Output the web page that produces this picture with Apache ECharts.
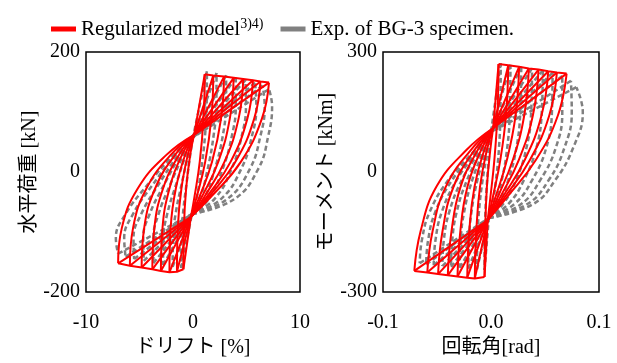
<!DOCTYPE html>
<html><head><meta charset="utf-8">
<script src="https://cdn.jsdelivr.net/npm/echarts@6/dist/echarts.min.js"></script>
<style>html,body{margin:0;padding:0;background:#fff}#c{width:617px;height:363px}</style>
</head><body><div id="c"></div>
<script>
// ---------- Left panel: drift [%] vs horizontal load [kN] ----------
const driftTicks = [-10, 0, 10];
const loadTicks = [-200, 0, 200];
const driftModelPinch = [[0.1, 62], [-0.2, -75]];
const driftModelPosPeaks = [[1.1,163],[1.9,161],[2.9,159],[3.8,157],[4.7,155],[5.6,153],[6.3,151],[7.1,149]];
const driftModelPosCurves = [
 [[0.14,-41],[0.63,17],[0.98,89]],
 [[0.35,-41],[1.14,17],[1.71,89]],
 [[0.61,-41],[1.78,17],[2.62,89]],
 [[0.84,-41],[2.36,17],[3.44,89]],
 [[1.07,-41],[2.94,17],[4.26,89]],
 [[1.31,-41],[3.51,17],[5.08,89]],
 [[1.49,-41],[3.96,17],[5.72,89]],
 [[1.70,-41],[4.47,17],[6.44,89]]
];
const driftModelNegPeaks = [[-0.9,-162],[-1.5,-166],[-2.2,-167],[-3.0,-165],[-3.8,-162],[-4.8,-159],[-5.9,-156],[-7.0,-152]];
const driftModelNegCurves = [
 [[-0.26,29],[-0.64,-27],[-0.85,-93]],
 [[-0.48,29],[-1.08,-27],[-1.42,-93]],
 [[-0.73,29],[-1.60,-27],[-2.09,-93]],
 [[-1.02,29],[-2.19,-27],[-2.85,-93]],
 [[-1.30,29],[-2.79,-27],[-3.61,-93]],
 [[-1.66,29],[-3.53,-27],[-4.56,-93]],
 [[-2.06,29],[-4.34,-27],[-5.60,-93]],
 [[-2.46,29],[-5.15,-27],[-6.65,-93]]
];
const driftExpPinch = [[0.0, 58], [-0.1, -70]];
const driftExpPosPeaks = [[1.3,168],[2.2,165],[3.1,161],[4.0,157],[4.9,153],[5.8,149],[6.5,144],[7.1,138]];
const driftExpPosCurves = [
 [[0.32,-45],[0.77,5],[1.12,60],[1.27,110]],
 [[0.64,-45],[1.37,5],[1.92,60],[2.18,110]],
 [[1.02,-45],[2.04,5],[2.78,60],[3.07,110]],
 [[1.46,-45],[2.77,5],[3.63,60],[4.00,110]],
 [[2.00,-45],[3.60,5],[4.55,60],[4.95,110]],
 [[2.61,-45],[4.50,5],[5.51,60],[5.92,110]],
 [[3.20,-45],[5.31,5],[6.30,60],[6.70,110]],
 [[3.86,-45],[6.09,5],[7.03,60],[7.39,110]]
];
const driftExpNegPeaks = [[-1.1,-160],[-1.9,-158],[-2.8,-155],[-3.7,-152],[-4.6,-148],[-5.5,-145],[-6.3,-141],[-7.0,-136]];
const driftExpNegCurves = [
 [[-0.25,30],[-0.61,-20],[-0.94,-70],[-1.08,-110]],
 [[-0.42,30],[-1.06,-20],[-1.63,-70],[-1.88,-110]],
 [[-0.64,30],[-1.57,-20],[-2.41,-70],[-2.77,-110]],
 [[-0.85,30],[-2.11,-20],[-3.22,-70],[-3.70,-110]],
 [[-1.10,30],[-2.67,-20],[-4.05,-70],[-4.65,-110]],
 [[-1.32,30],[-3.19,-20],[-4.84,-70],[-5.56,-110]],
 [[-1.58,30],[-3.72,-20],[-5.61,-70],[-6.43,-110]],
 [[-1.75,30],[-4.20,-20],[-6.30,-70],[-7.21,-110]]
];

// ---------- Right panel: rotation [rad] vs moment [kNm] ----------
const rotTicks = [-0.1, 0.0, 0.1];
const momentTicks = [-300, 0, 300];
const rotModelPinch = [[0.002, 110], [-0.003, -120]];
const rotModelPosPeaks = [[0.007,270],[0.016,267],[0.026,263],[0.035,259],[0.044,256],[0.053,252],[0.061,249],[0.070,246]];
const rotModelPosCurves = [
 [[-0.0006,-64],[0.0031,30],[0.0059,142]],
 [[0.0016,-64],[0.0086,30],[0.0139,142]],
 [[0.0040,-64],[0.0147,30],[0.0228,142]],
 [[0.0061,-64],[0.0202,30],[0.0308,142]],
 [[0.0083,-64],[0.0257,30],[0.0388,142]],
 [[0.0104,-64],[0.0312,30],[0.0468,142]],
 [[0.0124,-64],[0.0360,30],[0.0540,142]],
 [[0.0145,-64],[0.0415,30],[0.0620,142]]
];
const rotModelNegPeaks = [[-0.006,-262],[-0.015,-266],[-0.022,-264],[-0.031,-261],[-0.040,-258],[-0.049,-255],[-0.059,-251],[-0.071,-247]];
const rotModelNegCurves = [
 [[-0.0007,55],[-0.0038,-37],[-0.0054,-148]],
 [[-0.0038,55],[-0.0102,-37],[-0.0136,-148]],
 [[-0.0062,55],[-0.0153,-37],[-0.0201,-148]],
 [[-0.0092,55],[-0.0218,-37],[-0.0284,-148]],
 [[-0.0123,55],[-0.0282,-37],[-0.0366,-148]],
 [[-0.0153,55],[-0.0347,-37],[-0.0449,-148]],
 [[-0.0187,55],[-0.0419,-37],[-0.0541,-148]],
 [[-0.0228,55],[-0.0506,-37],[-0.0652,-148]]
];
const rotExpPinch = [[0.0, 100], [-0.002, -115]];
const rotExpPosPeaks = [[0.009,272],[0.018,268],[0.028,264],[0.038,259],[0.048,254],[0.057,248],[0.066,240],[0.074,228],[0.079,212]];
const rotExpPosCurves = [
 [[0.0013,-80],[0.0046,-20],[0.0074,60],[0.0087,150]],
 [[0.0040,-80],[0.0100,-20],[0.0150,60],[0.0174,150]],
 [[0.0070,-80],[0.0160,-20],[0.0235,60],[0.0271,150]],
 [[0.0112,-80],[0.0232,-20],[0.0328,60],[0.0372,150]],
 [[0.0160,-80],[0.0305,-20],[0.0420,60],[0.0470,150]],
 [[0.0216,-80],[0.0381,-20],[0.0511,60],[0.0564,150]],
 [[0.0279,-80],[0.0456,-20],[0.0599,60],[0.0660,150]],
 [[0.0337,-80],[0.0535,-20],[0.0679,60],[0.0748,150]],
 [[0.0390,-80],[0.0595,-20],[0.0760,60],[0.0850,150]]
];
const rotExpNegPeaks = [[-0.006,-245],[-0.013,-243],[-0.021,-241],[-0.029,-239],[-0.037,-237],[-0.045,-235],[-0.053,-233],[-0.060,-231],[-0.066,-228]];
const rotExpNegCurves = [
 [[-0.0015,50],[-0.0036,-20],[-0.0052,-100],[-0.0058,-170]],
 [[-0.0033,50],[-0.0078,-20],[-0.0112,-100],[-0.0126,-170]],
 [[-0.0053,50],[-0.0126,-20],[-0.0181,-100],[-0.0204,-170]],
 [[-0.0073,50],[-0.0174,-20],[-0.0249,-100],[-0.0281,-170]],
 [[-0.0093,50],[-0.0222,-20],[-0.0318,-100],[-0.0359,-170]],
 [[-0.0113,50],[-0.0270,-20],[-0.0387,-100],[-0.0437,-170]],
 [[-0.0133,50],[-0.0318,-20],[-0.0456,-100],[-0.0514,-170]],
 [[-0.0150,50],[-0.0360,-20],[-0.0516,-100],[-0.0582,-170]],
 [[-0.0165,50],[-0.0396,-20],[-0.0568,-100],[-0.0640,-170]]
];

const RED = '#ff0000', GRAY = '#808080';
const FONT = "'Liberation Serif', 'Noto Sans CJK JP', serif";

const series = [];
function line(idx, name, data, style, smooth) {
  series.push({
    type: 'line', name: name, xAxisIndex: idx, yAxisIndex: idx,
    data: data, showSymbol: false, symbol: 'none', smooth: smooth ? 0.45 : false,
    color: style.color, lineStyle: style, silent: true, animation: false,
    z: name === 'model' ? 3 : 2
  });
}
function hyst(idx, name, pinch, posPeaks, posCurves, negPeaks, negCurves, style, skeleton) {
  posPeaks.forEach((p, i) => {
    line(idx, name, [pinch[1]].concat(posCurves[i], [p]), style, true);
    line(idx, name, [p, pinch[0]], style, false);
  });
  negPeaks.forEach((p, i) => {
    line(idx, name, [pinch[0]].concat(negCurves[i], [p]), style, true);
    line(idx, name, [p, pinch[1]], style, false);
  });
  if (skeleton) {
    line(idx, name, posPeaks, style, false);
    line(idx, name, negPeaks, style, false);
  }
}
const expStyle = { color: GRAY, width: 2.5, type: [5, 3] };
const modelStyle = { color: RED, width: 2 };
hyst(0, 'exp', driftExpPinch, driftExpPosPeaks, driftExpPosCurves, driftExpNegPeaks, driftExpNegCurves, expStyle, false);
hyst(1, 'exp', rotExpPinch, rotExpPosPeaks, rotExpPosCurves, rotExpNegPeaks, rotExpNegCurves, expStyle, false);
hyst(0, 'model', driftModelPinch, driftModelPosPeaks, driftModelPosCurves, driftModelNegPeaks, driftModelNegCurves, modelStyle, true);
hyst(1, 'model', rotModelPinch, rotModelPosPeaks, rotModelPosCurves, rotModelNegPeaks, rotModelNegCurves, modelStyle, true);

const axisText = { color: '#000', fontFamily: FONT, fontSize: 20 };
function xAxis(idx, ticks, name, fmt) {
  return {
    type: 'value', gridIndex: idx, min: ticks[0], max: ticks[ticks.length - 1],
    interval: ticks[1] - ticks[0],
    axisLine: { show: false }, axisTick: { show: false }, splitLine: { show: false },
    axisLabel: Object.assign({ margin: 21, formatter: fmt }, axisText),
    name: name, nameLocation: 'middle', nameGap: 45,
    nameTextStyle: { color: '#000', fontFamily: FONT, fontSize: 20 }
  };
}
function yAxis(idx, ticks, name, gap) {
  return {
    type: 'value', gridIndex: idx, min: ticks[0], max: ticks[ticks.length - 1],
    interval: ticks[1] - ticks[0],
    axisLine: { show: false }, axisTick: { show: false }, splitLine: { show: false },
    axisLabel: Object.assign({ margin: 6 }, axisText),
    name: name, nameLocation: 'middle', nameGap: gap, nameRotate: 90,
    nameTextStyle: { color: '#000', fontFamily: FONT, fontSize: 20 }
  };
}

const chart = echarts.init(document.getElementById('c'), null, { renderer: 'canvas' });
chart.setOption({
  animation: false,
  backgroundColor: '#fff',
  legend: {
    left: 46, top: 12, itemWidth: 25, itemHeight: 5, itemGap: 17,
    selectedMode: false,
    data: [
      { name: 'model', icon: 'rect', itemStyle: { color: RED } },
      { name: 'exp', icon: 'rect', itemStyle: { color: GRAY } }
    ],
    formatter: n => n === 'model' ? '{t|Regularized model}{s|3)4)}' : '{t|Exp. of BG-3 specimen.}',
    textStyle: {
      rich: {
        t: { fontFamily: FONT, fontSize: 21, color: '#000' },
        s: { fontFamily: FONT, fontSize: 14, color: '#000', padding: [0, 0, 10, 0] }
      }
    }
  },
  grid: [
    { left: 86, top: 52, width: 214, height: 248, show: true, borderColor: '#000', borderWidth: 1.5, backgroundColor: 'transparent' },
    { left: 383, top: 52, width: 216, height: 249, show: true, borderColor: '#000', borderWidth: 1.5, backgroundColor: 'transparent' }
  ],
  xAxis: [
    xAxis(0, driftTicks, 'ドリフト [%]', v => String(Math.round(v))),
    xAxis(1, rotTicks, '回転角[rad]', v => (Math.round(v * 10) / 10).toFixed(1))
  ],
  yAxis: [
    yAxis(0, loadTicks, '水平荷重 [kN]', 46),
    yAxis(1, momentTicks, 'モーメント [kNm]', 44)
  ],
  series: series
});
</script>
</body></html>
